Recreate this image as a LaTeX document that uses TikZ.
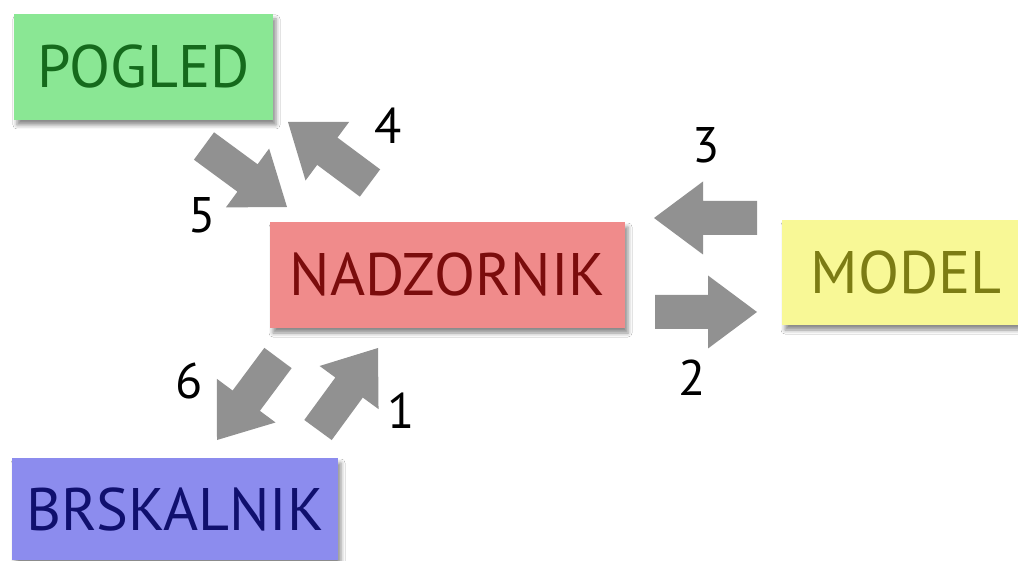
\documentclass[tikz,border=0pt]{standalone}
\usepackage{fontspec}
\setmainfont{PT Sans}
\usetikzlibrary{calc,shadows.blur}
\definecolor{arrowgray}{HTML}{919191}
\definecolor{pogledfill}{HTML}{8AE794}
\definecolor{pogledtext}{HTML}{156A1C}
\definecolor{nadzfill}{HTML}{F08B8B}
\definecolor{nadztext}{HTML}{7B0C0C}
\definecolor{modelfill}{HTML}{F8F896}
\definecolor{modeltext}{HTML}{7C7C14}
\definecolor{brskfill}{HTML}{8C8CEE}
\definecolor{brsktext}{HTML}{10106E}
\newcommand{\blockarrow}[2]{%
  \path coordinate (bc) at ($(#2)!49pt!(#1)$);
  \fill[arrowgray] ($(#1)!17pt!90:(#2)$) -- ($(bc)!17pt!-90:(#1)$) -- ($(bc)!36.5pt!-90:(#1)$)
    -- (#2) -- ($(bc)!36.5pt!90:(#1)$) -- ($(bc)!17pt!90:(#1)$) -- ($(#1)!17pt!-90:(#2)$) -- cycle;
}
\begin{document}
\begin{tikzpicture}[x=1pt,y=-1pt,
  box/.style={draw=none, inner sep=0pt,
    blur shadow={shadow xshift=3pt, shadow yshift=-5pt, shadow blur radius=4pt, shadow opacity=45}},
  bigtext/.style={font=\fontsize{60}{60}\selectfont},
  numlabel/.style={font=\fontsize{50}{50}\selectfont, text=black, inner sep=0pt}]
\clip (0,0) rectangle (1018,561);
\fill[white] (0,0) rectangle (1018,561);
% boxes
\node[box, fill=pogledfill, text=pogledtext, minimum width=259pt, minimum height=106pt, bigtext] (pogled) at (143.5,67) {POGLED};
\node[box, fill=nadzfill, text=nadztext, minimum width=355pt, minimum height=106pt, bigtext] (nadz) at (447.5,275) {NADZORNIK};
\node[box, fill=modelfill, text=modeltext, minimum width=248pt, minimum height=105pt, bigtext] (model) at (906,272.5) {MODEL};
\node[box, fill=brskfill, text=brsktext, minimum width=326pt, minimum height=102pt, bigtext] (brsk) at (175,509) {BRSKALNIK};
% arrow end points
\coordinate (a1t) at (318,430); \coordinate (a1h) at (378,348);
\coordinate (a2t) at (655,312); \coordinate (a2h) at (757,312);
\coordinate (a3t) at (757,218); \coordinate (a3h) at (654,218);
\coordinate (a4t) at (370,183); \coordinate (a4h) at (288,122);
\coordinate (a5t) at (204,146); \coordinate (a5h) at (287,207);
\coordinate (a6t) at (278,358); \coordinate (a6h) at (217,440);
\blockarrow{a1t}{a1h}
\blockarrow{a2t}{a2h}
\blockarrow{a3t}{a3h}
\blockarrow{a4t}{a4h}
\blockarrow{a5t}{a5h}
\blockarrow{a6t}{a6h}
% labels
\node[numlabel] (n1) at (401,411) {1};
\node[numlabel] (n2) at (692,378) {2};
\node[numlabel] (n3) at (706,145) {3};
\node[numlabel] (n4) at (388,126) {4};
\node[numlabel] (n5) at (202,215) {5};
\node[numlabel] (n6) at (189,381) {6};
\end{tikzpicture}
\end{document}
